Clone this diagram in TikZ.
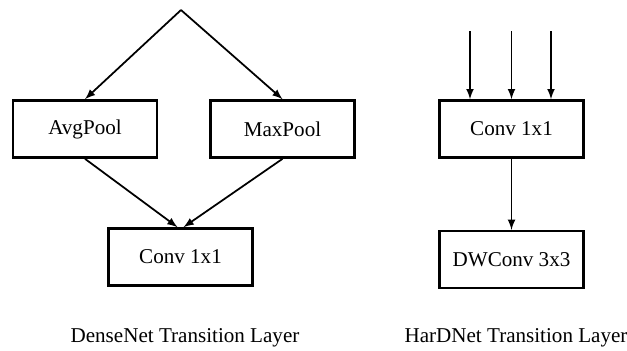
\documentclass[tikz,border=0pt]{standalone}
\usepackage{fontspec}
\setmainfont{Liberation Serif}
\usetikzlibrary{positioning}

\begin{document}
\begin{tikzpicture}[
    layer/.style={
        rectangle,
        draw=black, fill=white, line width=1.5pt,
        minimum width=2.88cm, minimum height=1.14cm,
        inner sep=0pt,
        font=\fontsize{12}{14}\selectfont
    },
    caption/.style={
        font=\fontsize{12}{14}\selectfont
    },
    flow/.style={->,>=latex,line width=1pt}
]
\useasboundingbox (0,0) rectangle (12.54,-7);

% DenseNet transition
\coordinate (split) at (3.62,-0.2);
\node[layer] (avg)  at (1.7,-2.58)  {AvgPool};
\node[layer] (max)  at (5.65,-2.58) {MaxPool};
\node[layer] (conv) at (3.61,-5.14) {Conv 1x1};
\node[caption] (dense) at (3.7,-6.76) {DenseNet Transition Layer};

\draw[flow] (split) -- (avg.north);
\draw[flow] (split) -- (max.north);
\draw[flow] (avg.south) -- ([xshift=-.06cm]conv.north);
\draw[flow] (max.south) -- ([xshift=.06cm]conv.north);

% HarDNet transition
\node[layer] (hconv) at (10.23,-2.58) {Conv 1x1};
\node[layer, below=1.42cm of hconv] (dw) {DWConv 3x3};
\node[caption] (hard) at (10.32,-6.76) {HarDNet Transition Layer};

\coordinate (in1) at ([xshift=-.83cm,yshift=1.36cm]hconv.north);
\coordinate (in2) at ([yshift=1.36cm]hconv.north);
\coordinate (in3) at ([xshift=.79cm,yshift=1.36cm]hconv.north);
\draw[flow] (in1) -- ([xshift=-.83cm]hconv.north);
\draw[flow] (in2) -- (hconv.north);
\draw[flow] (in3) -- ([xshift=.79cm]hconv.north);
\draw[flow] (hconv.south) -- (dw.north);
\end{tikzpicture}
\end{document}
